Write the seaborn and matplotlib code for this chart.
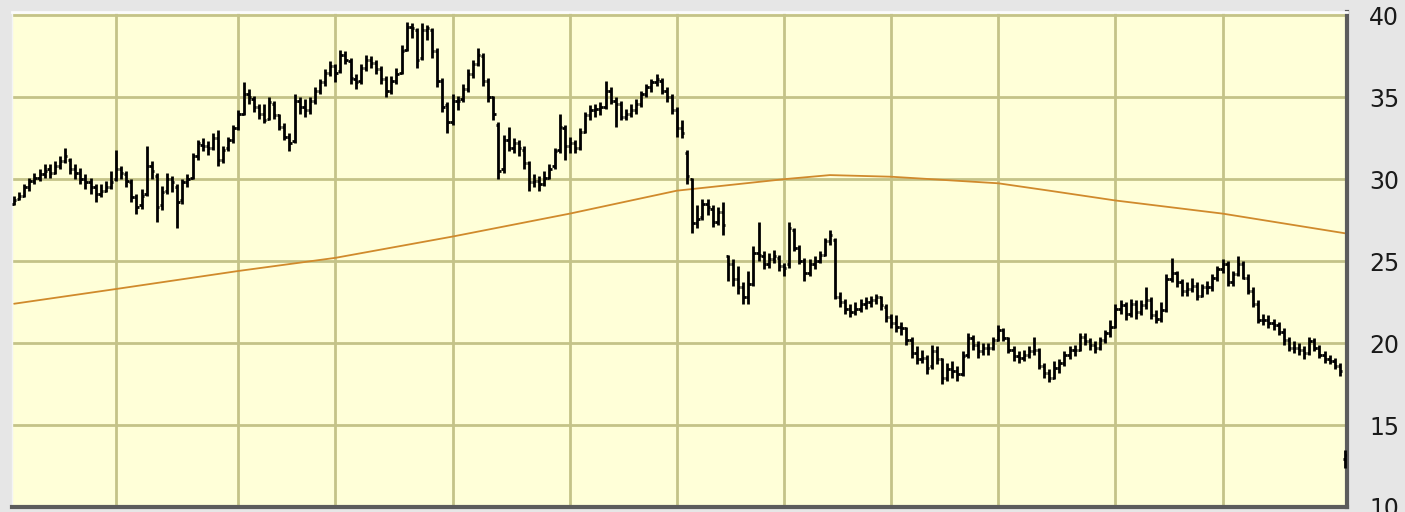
import matplotlib
matplotlib.use("Agg")
import matplotlib.pyplot as plt
import pandas as pd
import seaborn as sns

# daily OHLC, one entry per trading day
open_ = [
    28.5, 28.8, 29.0, 29.5, 29.9, 30.1, 30.3, 30.6, 30.4, 30.8,
    31.1, 31.2, 30.6, 30.4, 30.0, 29.8, 29.5, 29.1, 29.3, 29.5,
    30.0, 30.6, 30.3, 29.8, 28.9, 28.4, 29.1, 30.8, 30.2, 28.4,
    29.3, 30.0, 29.5, 28.7, 29.8, 30.1, 31.4, 32.1, 32.0, 31.9,
    32.5, 31.2, 31.9, 32.4, 33.1, 34.0, 35.2, 34.9, 34.4, 34.0,
    33.7, 34.6, 33.9, 33.2, 32.6, 32.3, 34.8, 34.4, 34.2, 34.8,
    35.4, 35.9, 36.5, 36.9, 36.6, 37.6, 37.2, 36.1, 36.0, 36.8,
    37.3, 37.1, 36.7, 36.1, 35.4, 36.0, 36.5, 37.9, 39.3, 39.1,
    37.4, 39.1, 39.1, 37.8, 36.0, 34.5, 33.5, 34.8, 34.9, 35.5,
    36.4, 37.0, 37.5, 36.0, 35.0, 33.3, 30.6, 32.4, 31.9, 32.2,
    31.8, 31.0, 29.8, 29.9, 29.7, 30.1, 30.8, 31.8, 33.1, 32.0,
    32.2, 31.9, 32.9, 33.9, 34.2, 34.3, 34.4, 35.4, 34.8, 34.6,
    33.8, 34.0, 34.2, 34.6, 35.2, 35.6, 35.9, 36.0, 35.4, 35.0,
    34.2, 33.1, 31.6, 30.0, 27.3, 27.7, 28.5, 28.2, 27.4, 28.0,
    25.3, 24.8, 23.9, 23.4, 22.8, 23.6, 25.5, 25.3, 24.8, 25.1,
    25.2, 24.7, 24.8, 26.9, 25.8, 25.0, 24.3, 24.8, 25.0, 25.4,
    26.2, 26.3, 22.8, 22.5, 22.1, 21.9, 22.1, 22.4, 22.5, 22.6,
    22.8, 22.2, 21.6, 21.2, 21.0, 20.9, 20.2, 19.4, 19.0, 19.1,
    18.6, 19.5, 19.0, 17.9, 18.4, 18.3, 18.1, 19.3, 20.3, 19.9,
    19.5, 19.7, 19.7, 20.2, 20.8, 20.3, 19.6, 19.2, 19.1, 19.3,
    19.5, 19.6, 18.6, 18.2, 17.9, 18.5, 18.8, 19.3, 19.6, 19.6,
    20.4, 20.1, 19.9, 19.7, 20.2, 20.6, 21.0, 22.1, 22.3, 21.8,
    22.4, 21.9, 22.3, 22.6, 21.7, 21.5, 22.0, 23.9, 24.3, 23.7,
    23.2, 23.3, 23.5, 22.9, 23.4, 23.4, 24.0, 24.5, 24.8, 23.7,
    24.2, 24.8, 24.0, 23.2, 22.4, 21.4, 21.4, 21.2, 21.1, 20.7,
    20.2, 19.7, 19.7, 19.6, 19.4, 20.1, 19.7, 19.3, 19.0, 18.9,
    18.6, 12.9,
]
high = [
    29.0, 29.2, 29.7, 30.1, 30.4, 30.6, 30.9, 30.9, 31.1, 31.4,
    31.9, 31.3, 30.9, 30.7, 30.3, 30.1, 29.7, 29.7, 29.9, 30.5,
    31.8, 30.8, 30.5, 30.0, 29.1, 29.4, 32.0, 31.1, 30.4, 29.6,
    30.4, 30.2, 29.7, 30.0, 30.3, 31.6, 32.4, 32.5, 32.3, 32.8,
    33.0, 32.0, 32.6, 33.3, 34.2, 35.9, 35.5, 35.1, 34.6, 34.6,
    35.0, 34.8, 34.0, 33.4, 32.8, 35.2, 35.0, 34.9, 35.0, 35.6,
    36.1, 36.7, 37.2, 37.0, 37.9, 37.8, 37.4, 36.4, 37.0, 37.6,
    37.5, 37.3, 36.9, 36.3, 36.3, 36.8, 38.2, 39.6, 39.5, 39.2,
    39.5, 39.4, 39.2, 38.0, 36.2, 34.7, 35.2, 35.1, 35.8, 36.7,
    37.3, 38.0, 37.7, 36.2, 35.1, 33.5, 32.7, 33.2, 32.5, 32.4,
    32.0, 31.1, 30.3, 30.2, 30.5, 30.9, 31.9, 34.0, 33.3, 32.6,
    32.4, 33.1, 34.1, 34.5, 34.6, 34.7, 36.0, 35.6, 35.0, 34.8,
    34.3, 34.6, 34.9, 35.4, 35.8, 36.1, 36.4, 36.2, 35.6, 35.2,
    34.4, 33.6, 31.8, 30.1, 28.4, 28.8, 28.8, 28.4, 28.3, 28.6,
    25.4, 25.1, 24.7, 23.7, 24.4, 25.9, 27.4, 25.6, 25.5, 25.7,
    25.4, 24.9, 27.4, 27.0, 26.0, 25.2, 25.1, 25.3, 25.6, 26.4,
    26.9, 26.4, 23.1, 22.7, 22.4, 22.5, 22.7, 22.8, 22.9, 23.0,
    22.9, 22.4, 21.8, 21.7, 21.3, 21.0, 20.4, 19.8, 19.6, 19.3,
    19.9, 19.8, 19.1, 18.8, 18.9, 18.6, 19.5, 20.6, 20.5, 20.1,
    20.0, 20.0, 20.4, 21.1, 20.9, 20.4, 19.8, 19.5, 19.6, 19.8,
    20.4, 19.7, 18.8, 18.4, 18.9, 19.0, 19.5, 19.8, 19.9, 20.6,
    20.6, 20.3, 20.1, 20.4, 20.8, 21.4, 22.4, 22.6, 22.5, 22.7,
    22.6, 22.6, 23.4, 22.8, 22.0, 22.5, 24.2, 25.2, 24.4, 23.9,
    23.7, 24.0, 23.7, 23.6, 23.8, 24.2, 24.7, 25.1, 25.0, 24.4,
    25.3, 25.0, 24.2, 23.4, 22.6, 21.8, 21.7, 21.5, 21.3, 20.9,
    20.4, 20.1, 20.0, 19.8, 20.4, 20.3, 19.9, 19.5, 19.3, 19.1,
    18.8, 13.5,
]
low = [
    28.4, 28.7, 28.9, 29.3, 29.7, 29.9, 30.1, 30.1, 30.3, 30.6,
    31.0, 30.3, 30.0, 29.7, 29.4, 29.1, 28.6, 28.9, 29.2, 29.4,
    29.9, 30.0, 29.5, 28.6, 27.9, 28.2, 29.0, 30.0, 27.4, 28.1,
    29.1, 29.2, 27.0, 28.5, 29.5, 30.0, 31.2, 31.7, 31.5, 31.8,
    30.8, 31.0, 31.7, 32.2, 33.0, 33.9, 34.6, 34.1, 33.7, 33.4,
    33.6, 33.7, 33.0, 32.4, 31.7, 32.2, 34.0, 33.8, 34.0, 34.6,
    35.2, 35.7, 36.3, 35.9, 36.5, 37.0, 35.8, 35.5, 35.8, 36.6,
    36.8, 36.4, 35.8, 35.0, 35.2, 35.8, 36.4, 37.8, 38.6, 36.8,
    37.3, 38.5, 37.4, 35.6, 34.1, 32.8, 33.3, 34.2, 34.7, 35.3,
    36.2, 36.9, 35.7, 34.7, 33.6, 30.0, 30.4, 31.7, 31.6, 31.4,
    30.6, 29.3, 29.5, 29.3, 29.6, 30.0, 30.6, 31.6, 31.2, 31.6,
    31.6, 31.8, 32.8, 33.6, 33.8, 33.9, 34.3, 34.6, 33.2, 33.6,
    33.6, 33.8, 34.0, 34.4, 35.0, 35.3, 35.7, 35.2, 34.7, 34.0,
    32.6, 32.5, 29.7, 26.7, 27.0, 27.5, 27.8, 27.1, 27.2, 26.6,
    23.8, 23.5, 23.0, 22.4, 22.4, 23.5, 25.0, 24.5, 24.6, 24.9,
    24.4, 24.1, 24.6, 25.6, 24.8, 23.8, 24.1, 24.5, 24.9, 25.3,
    26.0, 22.7, 22.2, 21.8, 21.6, 21.7, 21.9, 22.1, 22.2, 22.4,
    22.0, 21.3, 20.9, 20.7, 20.5, 19.9, 19.1, 18.7, 18.8, 18.1,
    18.4, 18.7, 17.5, 17.7, 17.9, 17.7, 18.0, 19.1, 19.6, 19.1,
    19.3, 19.3, 19.6, 20.1, 20.1, 19.4, 18.9, 18.8, 18.9, 19.1,
    19.3, 18.4, 17.9, 17.6, 17.8, 18.2, 18.6, 19.0, 19.2, 19.5,
    19.9, 19.6, 19.4, 19.6, 20.0, 20.4, 20.9, 21.8, 21.4, 21.6,
    21.5, 21.7, 22.1, 21.5, 21.2, 21.3, 21.9, 23.7, 23.4, 22.9,
    22.9, 23.1, 22.6, 22.8, 23.0, 23.2, 23.8, 24.3, 23.5, 23.5,
    24.1, 23.9, 23.0, 22.2, 21.2, 21.1, 20.9, 20.8, 20.5, 19.9,
    19.5, 19.4, 19.3, 19.0, 19.3, 19.5, 19.1, 18.8, 18.7, 18.4,
    18.0, 12.4,
]
close = [
    28.7, 29.0, 29.5, 29.9, 30.1, 30.3, 30.5, 30.4, 30.8, 31.1,
    31.4, 30.6, 30.4, 30.0, 29.8, 29.5, 29.1, 29.3, 29.5, 29.8,
    30.6, 30.4, 29.9, 28.9, 28.3, 29.0, 30.8, 30.5, 28.3, 29.2,
    30.0, 29.8, 28.6, 29.8, 30.0, 31.4, 32.2, 32.0, 31.9, 32.5,
    31.2, 31.8, 32.4, 33.1, 34.0, 35.2, 35.0, 34.4, 34.0, 33.6,
    34.7, 33.9, 33.2, 32.6, 32.2, 34.8, 34.4, 34.2, 34.8, 35.4,
    35.9, 36.5, 36.9, 36.5, 37.6, 37.3, 36.2, 35.9, 36.8, 37.3,
    37.1, 36.7, 36.1, 35.4, 36.0, 36.4, 37.8, 39.3, 39.2, 37.3,
    39.1, 39.2, 37.8, 36.0, 34.4, 33.5, 34.8, 34.8, 35.5, 36.4,
    37.0, 37.6, 36.0, 35.0, 34.0, 30.5, 32.4, 31.9, 32.2, 31.9,
    31.0, 29.8, 29.9, 29.7, 30.1, 30.6, 31.7, 33.2, 32.0, 32.2,
    31.9, 32.9, 33.9, 34.2, 34.3, 34.4, 35.4, 34.8, 34.6, 33.8,
    34.0, 34.2, 34.6, 35.2, 35.6, 35.9, 36.1, 35.4, 35.0, 34.2,
    33.1, 32.8, 30.2, 27.3, 27.6, 28.5, 28.3, 27.4, 28.0, 27.2,
    24.8, 23.9, 23.4, 22.8, 23.6, 25.5, 25.4, 24.8, 25.1, 25.3,
    24.7, 24.6, 27.0, 25.8, 25.0, 24.3, 24.8, 25.0, 25.4, 26.2,
    26.6, 22.8, 22.5, 22.1, 21.9, 22.1, 22.4, 22.5, 22.6, 22.8,
    22.3, 21.6, 21.2, 21.0, 20.9, 20.2, 19.4, 19.0, 19.1, 18.5,
    19.5, 19.0, 17.9, 18.4, 18.3, 18.1, 19.2, 20.3, 19.9, 19.5,
    19.7, 19.7, 20.2, 20.8, 20.3, 19.6, 19.2, 19.1, 19.3, 19.5,
    19.6, 18.6, 18.2, 17.9, 18.5, 18.8, 19.3, 19.6, 19.6, 20.4,
    20.1, 19.9, 19.7, 20.2, 20.6, 21.0, 22.1, 22.3, 21.8, 22.4,
    21.9, 22.3, 22.6, 21.7, 21.5, 22.0, 23.9, 24.3, 23.7, 23.2,
    23.3, 23.5, 22.9, 23.4, 23.4, 24.0, 24.5, 24.8, 23.7, 24.2,
    24.8, 24.0, 23.2, 22.4, 21.4, 21.4, 21.2, 21.1, 20.7, 20.2,
    19.7, 19.7, 19.6, 19.4, 20.1, 19.7, 19.3, 19.0, 18.9, 18.6,
    18.3, 13.2,
]

# long moving average, read at a few bar positions
ma_day = [0, 20, 44, 63, 86, 109, 121, 130, 151, 160, 172, 193, 203, 216, 237, 261]
ma_value = [22.4, 23.3, 24.4, 25.2, 26.5, 27.9, 28.7, 29.3, 30.0, 30.25,
            30.15, 29.75, 29.3, 28.7, 27.9, 26.7]

# first trading day of each month (vertical grid)
month_starts = [20, 44, 63, 86, 109, 130, 151, 172, 193, 216, 237]
price_ticks = [10, 15, 20, 25, 30, 35, 40]

BG = "#e6e6e6"
PANEL = "#ffffd8"
GRID = "#c4c388"
MA_COLOR = "#d08a2c"

bars = pd.DataFrame({"open": open_, "high": high, "low": low, "close": close})
bars["day"] = range(len(bars))
ma = pd.DataFrame({"day": ma_day, "ma": ma_value})

sns.set_theme(style="white")
plt.rcParams["font.family"] = ["DejaVu Sans"]

fig = plt.figure(figsize=(14.05, 5.12), dpi=100, facecolor=BG)
ax = fig.add_axes([12 / 1405, 5 / 512, 1335 / 1405, 495 / 512])
ax.set_facecolor(PANEL)

sns.lineplot(data=ma, x="day", y="ma", color=MA_COLOR, linewidth=1.3, ax=ax, zorder=2)

tick = 0.45
lw = 2.0
ax.vlines(bars["day"], bars["low"], bars["high"], color="black", linewidth=lw, zorder=3)
ax.hlines(bars["open"], bars["day"] - tick, bars["day"], color="black", linewidth=lw, zorder=3)
ax.hlines(bars["close"], bars["day"], bars["day"] + tick, color="black", linewidth=lw, zorder=3)

ax.set_xlim(-0.4, 261.4)
ax.set_ylim(10, 40.2)
ax.set_xticks(month_starts)
ax.set_xticklabels([])
ax.set_yticks(price_ticks)
ax.yaxis.tick_right()
ax.tick_params(axis="both", length=0)
ax.tick_params(axis="y", labelsize=17, pad=16, labelcolor="#1a1a1a")
ax.grid(True, color=GRID, linewidth=2.0, zorder=1)
ax.set_axisbelow(True)
ax.set_xlabel("")
ax.set_ylabel("")

ax.spines["top"].set_color("#fbfbfb")
ax.spines["top"].set_linewidth(2)
ax.spines["left"].set_color("#f4f4f4")
ax.spines["left"].set_linewidth(1)
for side in ("right", "bottom"):
    ax.spines[side].set_color("#5c5c5c")
    ax.spines[side].set_linewidth(3)

fig.savefig("out.png", dpi=100, facecolor=BG)
